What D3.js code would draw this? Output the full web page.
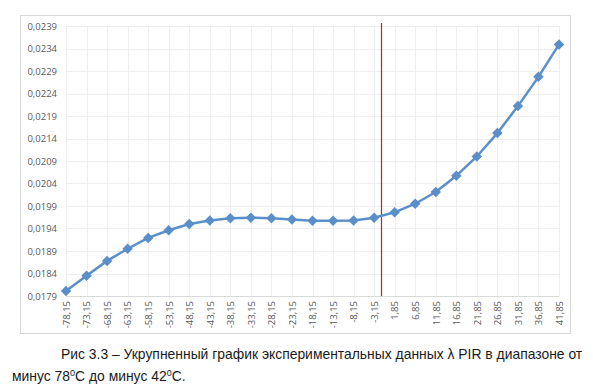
<!DOCTYPE html>
<html><head><meta charset="utf-8">
<script src="https://cdn.jsdelivr.net/npm/d3@7"></script>
<style>body{margin:0;background:#fff}svg{display:block}</style>
</head><body>
<svg id="c" width="593" height="391"></svg>
<script>
const temps = [-78.15,-73.15,-68.15,-63.15,-58.15,-53.15,-48.15,-43.15,-38.15,-33.15,-28.15,-23.15,-18.15,-13.15,-8.15,-3.15,1.85,6.85,11.85,16.85,21.85,26.85,31.85,36.85,41.85];
const tempLabels = temps.map(t => String(t).replace('.', ','));
const lambdaValues = [0.01801,0.01835,0.01868,0.01895,0.01919,0.01936,0.01950,0.01958,0.01963,0.01964,0.01963,0.01960,0.01957,0.01957,0.01958,0.01964,0.01976,0.01995,0.02021,0.02057,0.02100,0.02152,0.02212,0.02277,0.02349];
const yTicks = [0.0179,0.0184,0.0189,0.0194,0.0199,0.0204,0.0209,0.0214,0.0219,0.0224,0.0229,0.0234,0.0239];
const markerTemp = -1.5;
const captionLine1 = "Рис 3.3 – Укрупненный график экспериментальных данных λ PIR в диапазоне от";

(function(){
const svg = d3.select("#c");
const pL = 66, pR = 559, pT = 26, pB = 296;

// frame
svg.append("rect").attr("x",20.5).attr("y",15.5).attr("width",550).attr("height",318)
  .attr("fill","none").attr("stroke","#d9d9d9").attr("stroke-width",1);

const x = d3.scalePoint().domain(tempLabels).range([pL, pR]);
const xl = d3.scaleLinear().domain([temps[0], temps[temps.length-1]]).range([pL, pR]);
const y = d3.scaleLinear().domain([0.0179, 0.0239]).range([pB, pT]);

// gridlines
svg.append("g").selectAll("line").data(yTicks).join("line")
  .attr("x1", pL).attr("x2", pR).attr("y1", d=>Math.round(y(d))+0.5).attr("y2", d=>Math.round(y(d))+0.5)
  .attr("stroke","#eeeeee");
svg.append("g").selectAll("line").data(tempLabels).join("line")
  .attr("x1", d=>Math.round(x(d))+0.5).attr("x2", d=>Math.round(x(d))+0.5).attr("y1", pT).attr("y2", pB)
  .attr("stroke","#eeeeee");

// y axis
const ya = svg.append("g").attr("transform",`translate(${pL},0)`)
  .call(d3.axisLeft(y).tickValues(yTicks).tickSize(0).tickPadding(9).tickFormat(d => d3.format(".4f")(d).replace('.', ',')));
ya.select(".domain").remove();
ya.selectAll("text").attr("fill","#595959").style("font-family","Open Sans, sans-serif").style("font-size","9.5px");

// x axis
const xa = svg.append("g").attr("transform",`translate(0,${pB})`)
  .call(d3.axisBottom(x).tickSize(0).tickPadding(0));
xa.select(".domain").attr("stroke","#d9d9d9");
xa.selectAll("text").attr("fill","#595959").style("font-family","Open Sans, sans-serif").style("font-size","9.5px")
  .attr("transform","rotate(-90)").attr("text-anchor","end").attr("x",-5).attr("y",0).attr("dy","0.35em");

// red vertical line
svg.append("line").attr("x1", Math.round(xl(markerTemp))+0.5).attr("x2", Math.round(xl(markerTemp))+0.5)
  .attr("y1", 23).attr("y2", pB).attr("stroke","#d41c1c").attr("stroke-width",1.2);

// series
const line = d3.line().x((d,i)=>x(tempLabels[i])).y(d=>y(d));
svg.append("path").datum(lambdaValues).attr("d", line).attr("fill","none")
  .attr("stroke","#5b8fc9").attr("stroke-width",2.5);
svg.append("g").selectAll("path").data(lambdaValues).join("path")
  .attr("d", d3.symbol().type(d3.symbolDiamond2).size(70))
  .attr("transform",(d,i)=>`translate(${x(tempLabels[i])},${y(d)})`)
  .attr("fill","#5b8fc9");

// caption
const cap = svg.append("g").style("font-family","Liberation Sans, Arial, sans-serif").style("font-size","13.9px").attr("fill","#1a1a1a");
cap.append("text").attr("x",61).attr("y",359).text(captionLine1);
const t2 = cap.append("text").attr("x",12).attr("y",381);
t2.append("tspan").text("минус 78");
t2.append("tspan").attr("dy",-5).style("font-size","9px").text("0");
t2.append("tspan").attr("dy",5).text("С до минус 42");
t2.append("tspan").attr("dy",-5).style("font-size","9px").text("0");
t2.append("tspan").attr("dy",5).text("С.");
})();
</script>
</body></html>
